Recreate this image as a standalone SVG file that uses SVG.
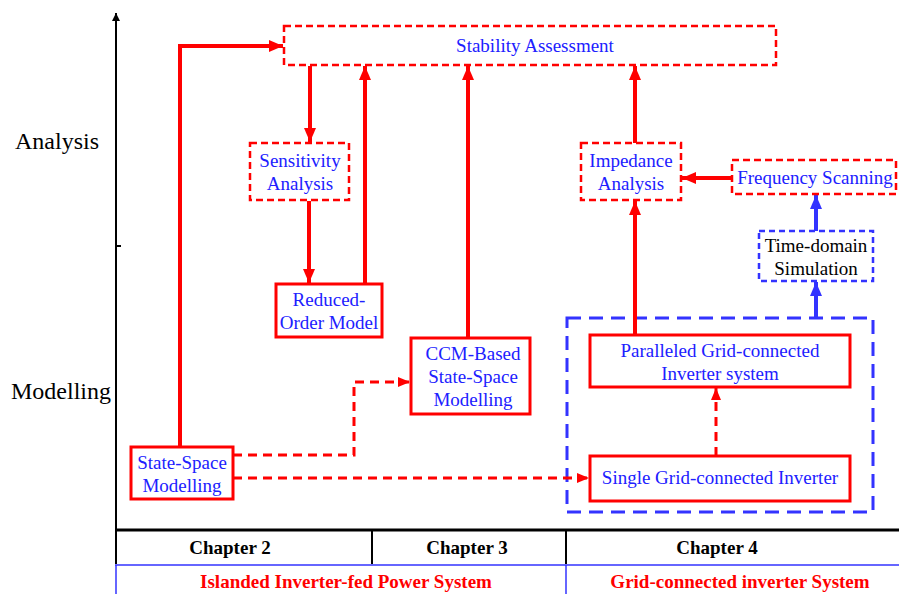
<svg xmlns="http://www.w3.org/2000/svg" width="899" height="594" viewBox="0 0 899 594" font-family="Liberation Serif, serif">
<style>
text{font-family:'Liberation Serif',serif}
.nt{font-size:19px;fill:#2020ff;text-anchor:middle}
.ax{font-size:24px;fill:#000;text-anchor:middle}
.ch{font-size:19px;font-weight:bold;fill:#000;text-anchor:middle}
.sy{font-size:19px;font-weight:bold;fill:#ff0000;text-anchor:middle}
.rs{fill:#fff;stroke:#ff0000;stroke-width:3}
.rd{fill:#fff;stroke:#ff0000;stroke-width:2.5;stroke-dasharray:7 4}
.bd{fill:#fff;stroke:#3333ff;stroke-width:2.5;stroke-dasharray:6 4}
.ra{fill:none;stroke:#ff0000;stroke-width:4;marker-end:url(#ah)}
.rda{fill:none;stroke:#ff0000;stroke-width:3;stroke-dasharray:9 6;marker-end:url(#ahs)}
.ba{fill:none;stroke:#3333ff;stroke-width:4;marker-end:url(#ahb)}
</style>
<defs>
<marker id="ah" markerUnits="userSpaceOnUse" markerWidth="14" markerHeight="12" refX="14" refY="6" orient="auto"><path d="M0,0 L14,6 L0,12 z" fill="#ff0000"/></marker>
<marker id="ahs" markerUnits="userSpaceOnUse" markerWidth="12" markerHeight="10" refX="12" refY="5" orient="auto"><path d="M0,0 L12,5 L0,10 z" fill="#ff0000"/></marker>
<marker id="ahb" markerUnits="userSpaceOnUse" markerWidth="14" markerHeight="12" refX="14" refY="6" orient="auto"><path d="M0,0 L14,6 L0,12 z" fill="#3333ff"/></marker>
<marker id="aha" markerUnits="userSpaceOnUse" markerWidth="8" markerHeight="8" refX="8" refY="4" orient="auto"><path d="M0,0 L8,4 L0,8 z" fill="#000"/></marker>
</defs>

<g id="axis">
<line x1="116" y1="531" x2="116" y2="13" stroke="#000" stroke-width="2" marker-end="url(#aha)"/>
<line x1="116" y1="246" x2="121" y2="246" stroke="#000" stroke-width="2"/>
<text class="ax" x="57" y="149">Analysis</text>
<text class="ax" x="61" y="399">Modelling</text>
</g>

<g id="table">
<line x1="115" y1="530" x2="899" y2="530" stroke="#000" stroke-width="3"/>
<line x1="116" y1="530" x2="116" y2="564" stroke="#000" stroke-width="2"/>
<line x1="372" y1="530" x2="372" y2="564" stroke="#000" stroke-width="2"/>
<line x1="566" y1="530" x2="566" y2="564" stroke="#000" stroke-width="2"/>
<line x1="115" y1="565" x2="899" y2="565" stroke="#3333ff" stroke-width="1.5"/>
<line x1="116" y1="565" x2="116" y2="594" stroke="#3333ff" stroke-width="1.5"/>
<line x1="566" y1="565" x2="566" y2="594" stroke="#3333ff" stroke-width="1.5"/>
<text class="ch" x="230" y="554">Chapter 2</text>
<text class="ch" x="467" y="554">Chapter 3</text>
<text class="ch" x="717" y="554">Chapter 4</text>
<text class="sy" x="346" y="588">Islanded Inverter-fed Power System</text>
<text class="sy" x="740" y="588">Grid-connected inverter System</text>
</g>

<g id="grid-group">
<rect x="567" y="318" width="306" height="194" fill="none" stroke="#3333ff" stroke-width="3" stroke-dasharray="14 8"/>
</g>

<g id="connectors">
<polyline class="ra" points="180,447 180,46 283,46"/>
<line class="ra" x1="310" y1="66" x2="310" y2="142"/>
<line class="ra" x1="309" y1="201" x2="309" y2="283"/>
<line class="ra" x1="365" y1="284" x2="365" y2="66"/>
<line class="ra" x1="468" y1="338" x2="468" y2="66"/>
<line class="ra" x1="635" y1="143" x2="635" y2="66"/>
<line class="ra" x1="635" y1="335" x2="635" y2="201"/>
<line class="ra" x1="732" y1="178" x2="682" y2="178"/>
<line class="ba" x1="816" y1="231" x2="816" y2="195"/>
<line class="ba" x1="816" y1="318" x2="816" y2="282"/>
<line class="rda" x1="716" y1="456" x2="716" y2="388"/>
<polyline class="rda" points="233,455 354,455 354,382 410,382"/>
<line class="rda" x1="233" y1="478" x2="589" y2="478"/>
</g>

<g id="stability">
<rect class="rd" x="284" y="26" width="492" height="39"/>
<text class="nt" x="535" y="51.5">Stability Assessment</text>
</g>
<g id="sensitivity">
<rect class="rd" x="250" y="143" width="99" height="57"/>
<text class="nt" x="300" y="167">Sensitivity</text>
<text class="nt" x="300" y="190">Analysis</text>
</g>
<g id="reduced">
<rect class="rs" x="276" y="284" width="106" height="53"/>
<text class="nt" x="329" y="306">Reduced-</text>
<text class="nt" x="329" y="329">Order Model</text>
</g>
<g id="ccm">
<rect class="rs" x="411" y="338" width="119" height="76"/>
<text class="nt" x="473" y="360">CCM-Based</text>
<text class="nt" x="473" y="383">State-Space</text>
<text class="nt" x="473" y="406">Modelling</text>
</g>
<g id="ssm">
<rect class="rs" x="131" y="447" width="102" height="52"/>
<text class="nt" x="182" y="469">State-Space</text>
<text class="nt" x="182" y="492">Modelling</text>
</g>
<g id="impedance">
<rect class="rd" x="581" y="143" width="100" height="57"/>
<text class="nt" x="631" y="167">Impedance</text>
<text class="nt" x="631" y="190">Analysis</text>
</g>
<g id="frequency">
<rect class="rd" x="732" y="160" width="164" height="34"/>
<text class="nt" x="815" y="184">Frequency Scanning</text>
</g>
<g id="timedomain">
<rect class="bd" x="759" y="231" width="114" height="50"/>
<text class="nt" x="816" y="252" style="fill:#000">Time-domain</text>
<text class="nt" x="816" y="275" style="fill:#000">Simulation</text>
</g>
<g id="paralleled">
<rect class="rs" x="590" y="335" width="260" height="52"/>
<text class="nt" x="720" y="357">Paralleled Grid-connected</text>
<text class="nt" x="720" y="380">Inverter system</text>
</g>
<g id="single">
<rect class="rs" x="590" y="456" width="260" height="45"/>
<text class="nt" x="720" y="484">Single Grid-connected Inverter</text>
</g>
</svg>
